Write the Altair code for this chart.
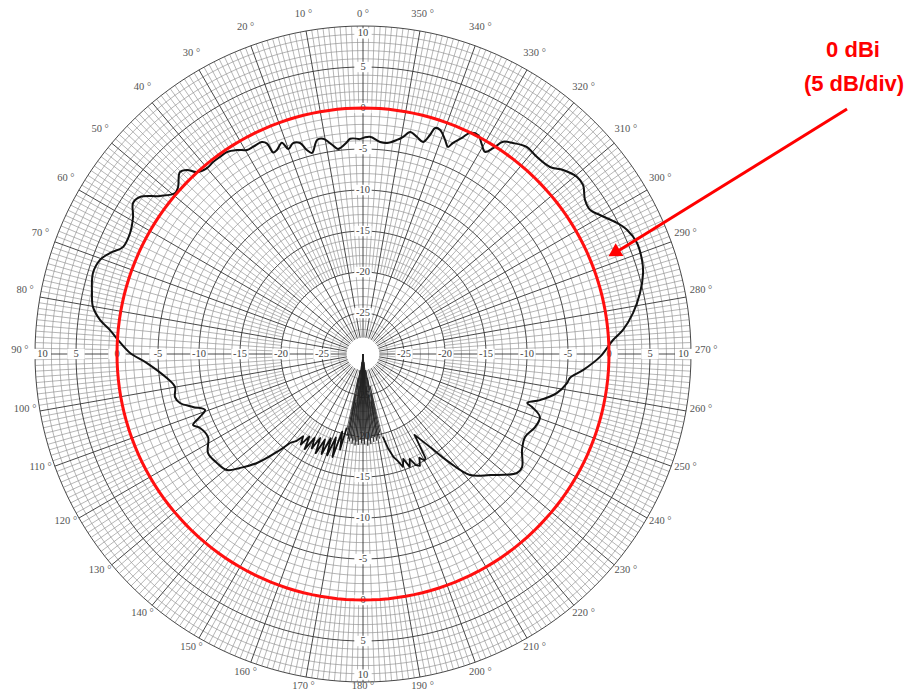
import altair as alt
import pandas as pd
import numpy as np

# ---------------- data ----------------
# antenna pattern: angle (deg, counter-clockwise from top) and gain (dB)
PAT_ANGLE = [0.8, 3.4, 4.3, 6.95, 8.4, 10.5, 12.1, 14.2, 15.4, 16.6, 18.35, 20.0, 21.0, 22.9, 24.0,
             24.5, 25.5, 28.0, 29.6, 31.7, 34.0, 36.0, 38.0, 40.0, 42.4, 43.7, 45.2, 47.9, 49.4,
             52.1, 54.85, 56.7, 59.2, 62.6, 66.0, 68.2, 70.3, 73.3, 77.3, 80.1, 82.6, 84.6, 86.7,
             89.75, 92.4, 97.0, 99.95, 102.9, 105.0, 107.3, 109.5, 111.1, 112.7, 114.4, 118.2,
             122.6, 126.7, 130.5, 132.8, 135.8, 138.7, 140.6,
             142.5, 144.0, 145.5, 147.0, 148.5, 150.0, 151.5, 153.0, 154.5, 156.0, 157.5, 159.0,
             160.5, 162.0, 163.5, 165.0, 166.5, 167.5,
             193.5, 195.0, 196.5, 198.0, 199.5, 201.0, 202.5, 204.0, 205.5, 207.0, 208.5, 210.0,
             211.0, 212.5,
             215.8, 218.6, 221.5, 226.4, 232.3, 234.6, 238.9, 242.9, 247.0, 250.4, 252.6, 253.4,
             255.4, 258.6, 261.9, 263.4, 265.8, 269.3, 273.2, 275.3, 278.6, 282.4, 286.1, 288.6,
             292.1, 295.2, 297.3, 300.4, 302.4, 304.75, 307.5, 309.6, 312.6, 315.0, 318.6, 321.6,
             324.6, 326.6, 327.7, 328.9, 330.35, 332.3, 334.2, 335.4, 336.9, 337.7, 339.0, 341.0,
             342.3, 343.0, 344.2, 346.0, 348.0, 349.6, 351.0, 353.5, 355.4, 358.2, 360.8]
PAT_DB = [-3.8, -3.7, -4.07, -4.8, -4.2, -3.3, -3.3, -4.7, -4.2, -3.15, -2.9, -3.4, -2.4, -3.0, -3.1,
          -1.8, -1.36, -1.4, -1.38, -0.76, -0.3, -0.3, -0.3, -0.4, 0.04, 1.05, 1.47, 0.39, 0.18,
          1.37, 3.26, 3.55, 2.65, 2.0, 2.05, 3.2, 4.06, 4.38, 3.88, 3.43, 2.34, 0.99, -0.07,
          -1.6, -3.63, -5.9, -6.72, -6.48, -6.9, -8.28, -9.56, -8.69, -7.53, -8.17, -8.56,
          -7.57, -7.78, -8.2, -9.55, -11.46, -14.1, -15.96,
          -16.6, -17.6, -16.6, -18.0, -16.4, -18.2, -16.9, -18.5, -16.6, -18.6, -16.8, -19.0,
          -16.9, -19.3, -16.9, -20.2, -18.0, -20.8,
          -19.6, -18.0, -16.9, -16.3, -15.4, -16.3, -15.1, -16.0, -15.0, -14.7, -15.6, -15.0,
          -15.2, -18.3,
          -16.0, -13.0, -10.3, -8.6, -6.27, -6.2, -7.35, -7.8, -7.2, -7.1, -8.4, -9.1,
          -7.7, -5.9, -4.87, -4.6, -3.1, -1.1, 0.54, 1.84, 3.3, 4.59, 5.55, 5.9,
          6.05, 5.57, 4.85, 3.5, 2.8, 2.95, 3.83, 3.87, 3.15, 2.25, 2.05, 2.2,
          1.57, 1.0, -0.3, -1.22, -0.67, 0.17, -0.06, -1.0, -2.0, -2.7, -2.05, -1.1,
          -1.07, -2.07, -3.13, -2.73, -2.33, -3.1, -3.57, -4.1, -4.06, -3.5, -3.8]

# deep-null region near the back lobe
WEDGE_ANGLE = [167.5, 168.0, 168.5, 169.0, 169.5, 170.0, 170.5, 171.0, 171.5, 172.0, 172.5, 173.0,
               173.5, 174.0, 174.5, 175.0, 175.5, 176.0, 176.5, 177.0, 177.5, 178.0, 178.5,
               179.0, 179.5, 180.0, 180.5, 181.0, 181.5, 182.0, 182.5, 183.0, 183.5, 184.0,
               184.5, 185.0, 185.5, 186.0, 186.5, 187.0, 187.5, 188.0, 188.5, 189.0, 189.5,
               190.0, 190.5, 191.0, 191.5, 192.0, 192.5, 193.0, 193.5]
WEDGE_DB = [-20.8, -20.5, -27, -19.8, -25, -19.5, -28, -19.2, -24, -19.6, -29, -19.0,
            -26, -19.4, -30, -18.8, -27, -19.3, -30, -18.9, -29, -19.5, -30,
            -19.1, -30, -19.4, -30, -19.0, -29, -19.6, -30, -18.8, -28, -19.4,
            -30, -19.0, -26, -19.7, -29, -19.2, -25, -19.8, -28, -19.3, -24,
            -19.9, -27, -19.5, -25, -20.2, -26, -19.6, -19.6]

# angle ranges where the trace is smooth (the rest is a noisy, jagged trace)
SMOOTH_RANGES = [(0.0, 140.6), (215.8, 361.0)]
NOISY_RANGES = [(140.6, 167.5), (193.5, 215.8)]

RING_DB = list(range(-27, 11))                  # 1 dB rings
MAJOR_RING_DB = [-25, -20, -15, -10, -5, 0, 5, 10]
DEG_LABELS = list(range(0, 360, 10))
DB_LABELS = [10, 5, 0, -5, -10, -15, -20, -25]
AXIS_ANGLES = [0, 90, 180, 270]
REF_DB = 0
ANNOT_LINES = ["0 dBi", "(5 dB/div)"]

# ---------------- layout ----------------
W, H = 897, 700
CX, CY = 363, 354          # page position of the pole
PX = 8.2                   # pixels per dB
XMIN, XMAX = -(CX - 8) / PX, (8 + W - CX) / PX
YMAX = (CY - 8) / PX
YMIN = YMAX - H / PX
FLOOR = -30                # dB at the pole


def ux(px):
    return (px - CX) / PX


def uy(py):
    return (CY - py) / PX


XS = alt.Scale(domain=[XMIN, XMAX], nice=False, zero=False)
YS = alt.Scale(domain=[YMIN, YMAX], nice=False, zero=False)


def polar(ch, r="datum.db", a="datum.angle", xn="x", yn="y", rmax=None, yoff=0.0):
    rr = f"max(({r}) - ({FLOOR}), 0)"
    if rmax is not None:
        rr = f"min({rr}, {rmax})"
    return ch.transform_calculate(**{
        xn: f"-{rr}*sin(({a})*PI/180)",
        yn: f"{rr}*cos(({a})*PI/180) + {yoff}",
    })


def xy(xn="x", yn="y"):
    return dict(x=alt.X(f"{xn}:Q", scale=XS, axis=None),
                y=alt.Y(f"{yn}:Q", scale=YS, axis=None))


# ---------------- grid ----------------
ring_angles = np.arange(0, 362, 2)
rings = pd.DataFrame([(d, a) for d in RING_DB for a in ring_angles], columns=["db", "angle"])
rings["major"] = rings["db"].isin(MAJOR_RING_DB)

GRID_MINOR = "#8e8e8e"
GRID_MAJOR = "#333333"

minor_rings = polar(alt.Chart(rings[~rings.major]).mark_line(color=GRID_MINOR, strokeWidth=0.65)).encode(
    **xy(), detail="db:N", order="angle:Q")
major_rings = polar(alt.Chart(rings[rings.major]).mark_line(color=GRID_MAJOR, strokeWidth=0.9)).encode(
    **xy(), detail="db:N", order="angle:Q")

spokes = []
for a in range(0, 360):
    if a % 10 == 0:
        continue
    spokes.append((a, 0, 10))
for a in range(0, 360, 2):
    if a % 10:
        spokes.append((a, -20, 0))
for a in range(0, 360, 5):
    if a % 10:
        spokes.append((a, -28, -20))
minor_sp = pd.DataFrame(spokes, columns=["angle", "d0", "d1"])
major_sp = pd.DataFrame([(a, -28, 10) for a in range(0, 360, 10)], columns=["angle", "d0", "d1"])


def spoke_layer(df, color, sw):
    ch = alt.Chart(df).mark_rule(color=color, strokeWidth=sw)
    ch = polar(ch, r="datum.d0", xn="x", yn="y")
    ch = polar(ch, r="datum.d1", xn="x2", yn="y2")
    return ch.encode(x=alt.X("x:Q", scale=XS, axis=None), y=alt.Y("y:Q", scale=YS, axis=None),
                     x2="x2:Q", y2="y2:Q")


minor_spokes = spoke_layer(minor_sp, GRID_MINOR, 0.65)
major_spokes = spoke_layer(major_sp, GRID_MAJOR, 0.9)

# ---------------- labels ----------------
deg_df = pd.DataFrame({"angle": DEG_LABELS})
deg_df["label"] = [f"{d} °" for d in DEG_LABELS]
deg_df["db"] = 11.85
deg_text = (polar(alt.Chart(deg_df).mark_text(font="Liberation Serif", fontSize=10.5, color="#555555"),
                  yoff=0.5)
            .transform_calculate(y=f"min(max(datum.y, {uy(686)}), {YMAX - 0.75})")
            .encode(**xy(), text="label:N"))

dbl = pd.DataFrame([(a, d) for a in AXIS_ANGLES for d in DB_LABELS], columns=["angle", "db"])
dbl["label"] = dbl["db"].astype(str)
db_bg = polar(alt.Chart(dbl).mark_point(shape="M-1,-0.6H1V0.6H-1Z", filled=True, color="white",
                                        opacity=1, size=300), rmax=39.1).encode(**xy())
db_text = polar(alt.Chart(dbl).mark_text(font="Liberation Serif", fontSize=10.5, color="#444444"),
                rmax=39.1).encode(**xy(), text="label:N")

# ---------------- 0 dBi reference circle ----------------
ref = pd.DataFrame({"angle": ring_angles, "db": REF_DB})
ref_circle = polar(alt.Chart(ref).mark_line(color="#ff1010", strokeWidth=3)).encode(
    **xy(), order="angle:Q")

# ---------------- pattern ----------------
pat = pd.DataFrame({"angle": PAT_ANGLE, "db": PAT_DB})


def pieces(ranges, tag):
    out = []
    for i, (lo, hi) in enumerate(ranges):
        p = pat[(pat.angle >= lo) & (pat.angle <= hi)].copy()
        p["part"] = f"{tag}{i}"
        out.append(p)
    return pd.concat(out)


smooth_df = pieces(SMOOTH_RANGES, "s")
noisy_df = pieces(NOISY_RANGES, "n")

pattern_smooth = polar(alt.Chart(smooth_df).mark_line(color="#111111", strokeWidth=2,
                                                      interpolate="catmull-rom")).encode(
    **xy(), detail="part:N", order="angle:Q")
pattern_noisy = polar(alt.Chart(noisy_df).mark_line(color="#111111", strokeWidth=1.8,
                                                    strokeJoin="round")).encode(
    **xy(), detail="part:N", order="angle:Q")
wedge = pd.DataFrame({"angle": WEDGE_ANGLE, "db": WEDGE_DB})
wedge_line = polar(alt.Chart(wedge).mark_line(color="#222222", strokeWidth=0.75)).encode(
    **xy(), order="angle:Q")

# ---------------- annotation ----------------
ann = pd.DataFrame({"label": ANNOT_LINES, "x": [ux(853), ux(854)], "y": [uy(50), uy(84)]})
ann_text = alt.Chart(ann).mark_text(font="Liberation Sans", fontWeight="bold", fontSize=22,
                                    color="#ff0000", baseline="middle").encode(**xy(), text="label:N")
arrow_df = pd.DataFrame({"x": [ux(847)], "y": [uy(109)], "x2": [ux(618)], "y2": [uy(251)]})
arrow_line = alt.Chart(arrow_df).mark_rule(color="#ff0000", strokeWidth=3).encode(
    x=alt.X("x:Q", scale=XS, axis=None), y=alt.Y("y:Q", scale=YS, axis=None), x2="x2:Q", y2="y2:Q")
head_df = pd.DataFrame({"x": [ux(614)], "y": [uy(253)]})
arrow_head = alt.Chart(head_df).mark_point(shape="triangle-up", filled=True, color="#ff0000",
                                           opacity=1, size=220, angle=238.8).encode(**xy())

chart = alt.layer(
    minor_rings, minor_spokes, major_rings, major_spokes,
    db_bg, db_text, deg_text,
    pattern_smooth, pattern_noisy, wedge_line, ref_circle,
    arrow_line, arrow_head, ann_text,
).properties(
    width=W, height=H, padding=0, autosize=alt.AutoSizeParams(type="none"), background="white"
).configure_view(stroke=None)

chart.save("out.html", embed_options={"renderer": "svg", "actions": False})
